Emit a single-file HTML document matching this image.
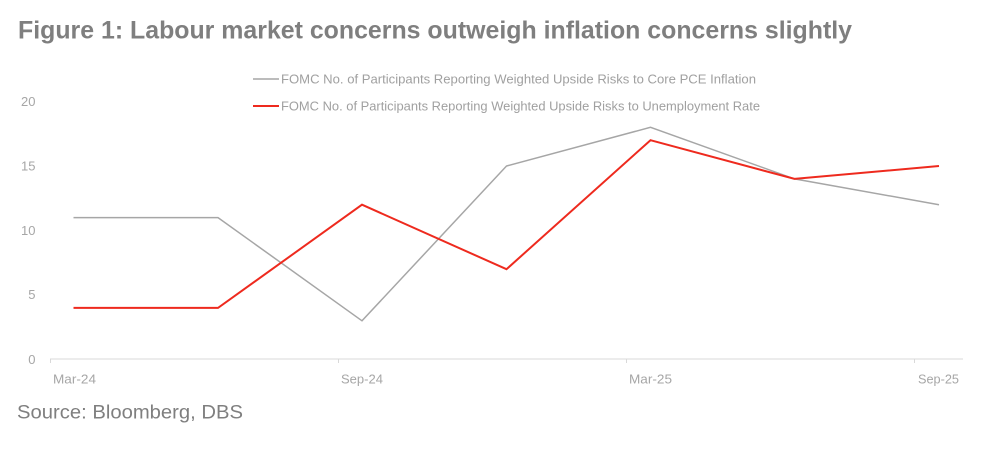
<!DOCTYPE html>
<html>
<head>
<meta charset="utf-8">
<style>
  html, body { margin: 0; padding: 0; background: #ffffff; }
  body { width: 1006px; height: 462px; overflow: hidden; }
  svg { display: block; }
  text { font-family: "Liberation Sans", "DejaVu Sans", sans-serif; }
</style>
</head>
<body>
<svg width="1006" height="462" viewBox="0 0 1006 462" xmlns="http://www.w3.org/2000/svg">
  <rect x="0" y="0" width="1006" height="462" fill="#ffffff"/>

  <!-- Title -->
  <text x="18" y="38.5" font-size="25" font-weight="bold" fill="#7f7f7f" textLength="834" lengthAdjust="spacingAndGlyphs">Figure 1: Labour market concerns outweigh inflation concerns slightly</text>

  <!-- Legend -->
  <line x1="253" y1="79" x2="279" y2="79" stroke="#a6a6a6" stroke-width="1.5"/>
  <text x="281" y="83.5" font-size="13" fill="#a0a0a0" textLength="475" lengthAdjust="spacingAndGlyphs">FOMC No. of Participants Reporting Weighted Upside Risks to Core PCE Inflation</text>
  <line x1="253" y1="106" x2="279" y2="106" stroke="#ee2a1e" stroke-width="2"/>
  <text x="281" y="110.5" font-size="13" fill="#a0a0a0" textLength="479" lengthAdjust="spacingAndGlyphs">FOMC No. of Participants Reporting Weighted Upside Risks to Unemployment Rate</text>

  <!-- Y axis labels -->
  <g font-size="13" fill="#a6a6a6" text-anchor="end">
    <text x="35.5" y="106">20</text>
    <text x="35.5" y="170.5">15</text>
    <text x="35.5" y="235">10</text>
    <text x="35.5" y="299">5</text>
    <text x="35.5" y="364">0</text>
  </g>

  <!-- X axis -->
  <line x1="50" y1="359" x2="963" y2="359" stroke="#d9d9d9" stroke-width="1"/>
  <g stroke="#d9d9d9" stroke-width="1">
    <line x1="50.5" y1="359" x2="50.5" y2="363"/>
    <line x1="338.5" y1="359" x2="338.5" y2="363"/>
    <line x1="626.5" y1="359" x2="626.5" y2="363"/>
    <line x1="914.5" y1="359" x2="914.5" y2="363"/>
  </g>
  <g font-size="12.5" fill="#a6a6a6">
    <text x="53" y="383.5" textLength="43" lengthAdjust="spacingAndGlyphs">Mar-24</text>
    <text x="341" y="383.5" textLength="42" lengthAdjust="spacingAndGlyphs">Sep-24</text>
    <text x="629" y="383.5" textLength="43" lengthAdjust="spacingAndGlyphs">Mar-25</text>
    <text x="918" y="383.5" textLength="41" lengthAdjust="spacingAndGlyphs">Sep-25</text>
  </g>

  <!-- Series: gray (Core PCE Inflation) -->
  <polyline fill="none" stroke="#a6a6a6" stroke-width="1.5" stroke-linejoin="miter"
    points="73.5,217.6 218,217.6 362,320.8 506.5,166 650.5,127.3 794.5,178.9 939,204.7"/>

  <!-- Series: red (Unemployment Rate) -->
  <polyline fill="none" stroke="#ee2a1e" stroke-width="2" stroke-linejoin="miter"
    points="73.5,307.9 218,307.9 362,204.7 506.5,269.2 650.5,140.2 794.5,178.9 939,166"/>

  <!-- Source -->
  <text x="17" y="418.5" font-size="19.5" fill="#7f7f7f" textLength="226" lengthAdjust="spacingAndGlyphs">Source: Bloomberg, DBS</text>
</svg>
</body>
</html>
